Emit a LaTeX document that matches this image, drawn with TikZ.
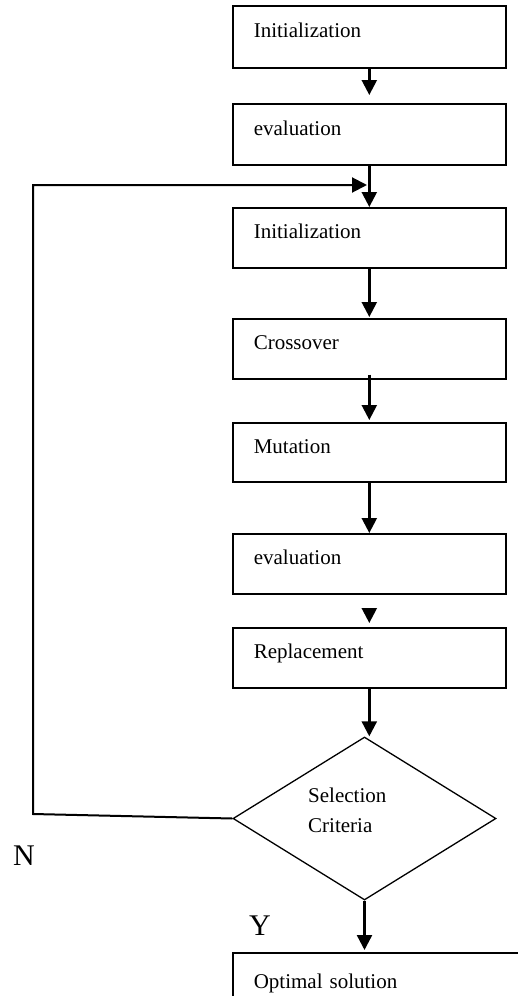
\documentclass[tikz,border=0pt]{standalone}
\usepackage{fontspec}
\setmainfont{Liberation Serif}
\usetikzlibrary{arrows.meta,shapes.geometric}
\tikzset{
  box/.style={draw, line width=1.6pt, anchor=north west, minimum width=273pt, minimum height=60pt,
    text width=231pt, align=left, inner xsep=21pt, inner ysep=0pt, text height=14pt, text depth=12pt,
    font=\fontsize{21}{25}\selectfont},
  arr/.style={line width=2.4pt, -{Triangle[width=15pt,length=15pt]}},
  lbl/.style={anchor=base west, inner sep=0pt, font=\fontsize{21}{25}\selectfont},
  big/.style={anchor=base west, inner sep=0pt, font=\fontsize{30}{34}\selectfont},
}
\begin{document}
\begin{tikzpicture}[x=1pt,y=-1pt]
\useasboundingbox (0,0) rectangle (518,996);
\clip (0,0) rectangle (518,996);
\node[box, minimum height=62pt] (b1) at (232,5) {Initialization};
\node[box, minimum height=61pt] (b2) at (232,103) {evaluation};
\node[box] (b3) at (232,207) {Initialization};
\node[box] (b4) at (232,318) {Crossover};
\node[box, minimum height=59pt] (b5) at (232,422) {Mutation};
\node[box] (b6) at (232,533) {evaluation};
\node[box] (b7) at (232,627) {Replacement};
\node[draw, diamond, line width=1.3pt, minimum width=263pt, minimum height=163pt, inner sep=0pt] (d) at (364.5,818.5) {};
\node[lbl] (s1) at (308,802) {Selection};
\node[lbl] (s2) at (308,832) {Criteria};
\node[box, minimum width=320pt, minimum height=70pt, text width=278pt, text height=13pt] (opt) at (232,952) {Optimal solution};
\node[big] (n) at (13,865) {N};
\node[big] (y) at (249,935) {Y};
\coordinate (fb1) at (33,814);
\coordinate (fb2) at (33,185);
\coordinate (fb3) at (367,185);
\draw[arr, shorten >=8pt] (b1.south) -- (b2.north);
\draw[arr] (b2.south) -- (b3.north);
\draw[line width=2pt, -{Triangle[width=15pt,length=15pt]}] (d.west) -- (fb1) -- (fb2) -- (fb3);
\draw[arr, shorten >=1pt] (b3.south) -- (b4.north);
\draw[arr, shorten <=-5pt, shorten >=2pt] (b4.south) -- (b5.north);
\draw[arr] (b5.south) -- (b6.north);
\draw[arr, shorten <=15pt, shorten >=4pt] (b6.south) -- (b7.north);
\draw[arr] (b7.south) -- (b7.south |- d.north);
\draw[arr, shorten >=2pt] (d.south) -- (opt.north -| d.south);
\end{tikzpicture}
\end{document}
